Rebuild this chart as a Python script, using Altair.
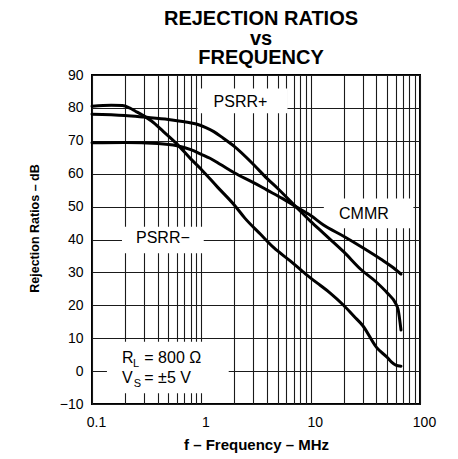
import altair as alt
import pandas as pd

FONT = "Liberation Sans"

# ---- curve data (frequency in MHz, ratio in dB) ----
freq_a = [0.1, 0.15, 0.19, 0.22, 0.25, 0.3, 0.35, 0.45, 0.6, 0.8, 1.0, 1.4, 2.0, 2.5, 3.5, 4.6, 6.5, 9, 12.3, 15, 20, 25, 30, 40, 50, 55, 60, 67]
db_a = [80.5, 80.8, 80.7, 80.0, 79.0, 77.5, 76.0, 72.8, 69.0, 64.5, 61.3, 56.0, 50.5, 46.5, 41.5, 37.5, 33.5, 29.5, 26.0, 23.8, 20.0, 16.6, 13.8, 7.2, 4.2, 2.7, 1.8, 1.5]

freq_b = [0.1, 0.2, 0.3, 0.5, 0.7, 0.9, 1.1, 1.3, 1.6, 2.0, 3.0, 4.0, 5.0, 7.3, 10, 13, 20, 29, 40, 50, 60, 63, 67]
db_b = [78.1, 77.7, 77.2, 76.5, 75.8, 75.1, 74.0, 72.8, 70.7, 68.3, 62.8, 58.5, 55.5, 50.0, 45.5, 42.0, 36.3, 30.8, 27.0, 23.8, 20.5, 18.8, 12.5]

freq_c = [0.1, 0.2, 0.4, 0.6, 0.8, 1.0, 1.2, 1.5, 2.0, 3.0, 4.0, 5.5, 7.3, 10, 13, 20, 30, 44, 55, 67]
db_c = [69.4, 69.5, 69.2, 68.5, 67.3, 65.9, 64.7, 62.8, 60.3, 57.3, 55.0, 52.5, 50.0, 47.3, 44.5, 41.0, 37.5, 34.0, 31.8, 29.5]

series_names = ["PSRR−", "PSRR+", "CMMR"]

# ---- axis values ----
x_grid = [0.1, 0.2, 0.3, 0.4, 0.5, 0.6, 0.7, 0.8, 0.9,
          1, 2, 3, 4, 5, 6, 7, 8, 9,
          10, 20, 30, 40, 50, 60, 70, 80, 90, 100]
x_labels = ["0.1", "1", "10", "100"]
y_values = [-10, 0, 10, 20, 30, 40, 50, 60, 70, 80, 90]

# ---- curve labels ----
label_text = ["PSRR+", "CMMR", "PSRR−"]
label_f = [2.28, 30.7, 0.445]
label_db = [80.2, 46.1, 39.0]

# white boxes behind the labels (gridlines hidden)
box_f1 = [0.92, 13.2, 0.188, 0.137]
box_f2 = [6.14, 87.0, 1.052, 1.78]
box_db1 = [85.9, 52.5, 43.9, 8.9]
box_db2 = [78.4, 43.4, 35.8, -6.75]

# condition annotation pieces (main text and subscripts)
ann_text = ["R", "L", "= 800 Ω", "V", "S", "= ±5 V"]
ann_f = [0.188, 0.2374, 0.301, 0.188, 0.241, 0.301]
ann_db = [2.37, 1.16, 2.37, -3.71, -4.92, -3.71]
ann_size = [16, 11, 16, 16, 11, 16]

curves = pd.concat([
    pd.DataFrame({"f": freq_a, "db": db_a, "series": series_names[0]}),
    pd.DataFrame({"f": freq_b, "db": db_b, "series": series_names[1]}),
    pd.DataFrame({"f": freq_c, "db": db_c, "series": series_names[2]}),
])
boxes = pd.DataFrame({"f": box_f1, "f2": box_f2, "db": box_db1, "db2": box_db2})
labels = pd.DataFrame({"f": label_f, "db": label_db, "text": label_text})
ann = pd.DataFrame({"f": ann_f, "db": ann_db, "text": ann_text, "fs": ann_size})

label_expr = " : ".join(
    [f"abs(datum.value - {v}) < 1e-9 ? '{v}'" for v in x_labels]
) + " : ''"

x_scale = alt.Scale(type="log", domain=[0.1, 100], nice=False)
y_scale = alt.Scale(domain=[-10, 90], nice=False, zero=False)

x_axis = alt.Axis(
    values=x_grid, labelExpr=label_expr, title="f – Frequency – MHz",
    grid=True, ticks=False, domain=False, labelOverlap=False, labelFlush=False,
    labelPadding=11, labelOffset=4, labelFontSize=14,
    titleFontSize=15, titleFontWeight="bold", titlePadding=8,
)
y_axis = alt.Axis(
    values=y_values, title="Rejection Ratios – dB",
    grid=True, ticks=False, domain=False, labelOverlap=False, labelFlush=False,
    labelPadding=9, labelFontSize=14,
    titleFontSize=12.5, titleFontWeight="bold", titlePadding=18, titleY=153,
)

X = alt.X("f:Q", scale=x_scale, axis=x_axis)
Y = alt.Y("db:Q", scale=y_scale, axis=y_axis)

box_layer = alt.Chart(boxes).mark_rect(fill="white").encode(
    x=X, x2="f2:Q", y=Y, y2="db2:Q"
)

line_layer = alt.Chart(curves).mark_line(
    color="black", strokeWidth=3, interpolate="monotone", strokeCap="round"
).encode(x=X, y=Y, detail="series:N")

label_layer = alt.Chart(labels).mark_text(
    font=FONT, fontSize=16, align="center", baseline="alphabetic", color="black"
).encode(x=X, y=Y, text="text:N")

ann_layer = alt.Chart(ann).mark_text(
    font=FONT, align="left", baseline="alphabetic", color="black"
).encode(x=X, y=Y, text="text:N", size=alt.Size("fs:Q", scale=None))

chart = alt.layer(box_layer, line_layer, label_layer, ann_layer).properties(
    width=328,
    height=329,
    autosize=alt.AutoSizeParams(type="none"),
    padding={"left": 84, "top": 67, "right": 30, "bottom": 50},
    title=alt.TitleParams(
        text=["REJECTION RATIOS", "vs", "FREQUENCY"],
        font=FONT, fontSize=20, fontWeight="bold", lineHeight=19.5,
        anchor="middle", dx=5, dy=8, offset=8, color="black",
    ),
).configure_view(
    stroke="black", strokeWidth=2
).configure_axis(
    labelFont=FONT, titleFont=FONT, labelColor="black", titleColor="black",
    gridColor="#1a1a1a", gridWidth=1.1, gridOpacity=1,
)

chart.save("out.html", embed_options={"renderer": "svg", "actions": False})
